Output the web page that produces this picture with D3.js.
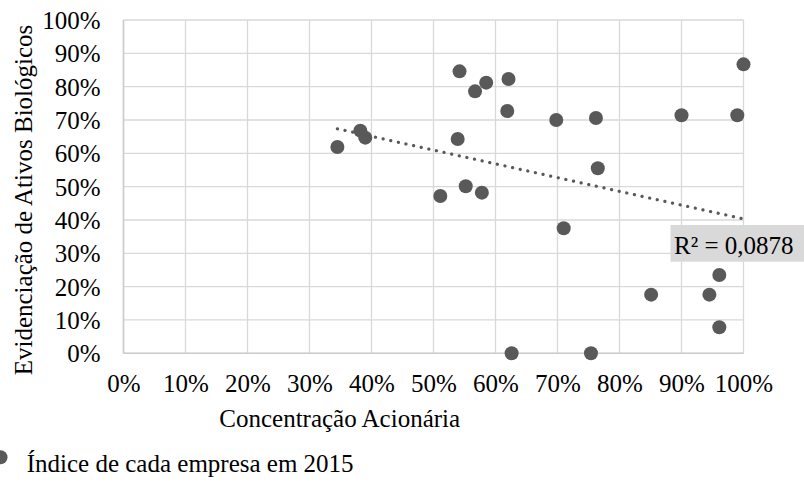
<!DOCTYPE html>
<html>
<head>
<meta charset="utf-8">
<script src="https://cdn.jsdelivr.net/npm/d3@7"></script>
<style>
  html, body { margin: 0; padding: 0; background: #fff; }
  svg { display: block; }
  text { font-family: "Liberation Serif", "Times New Roman", serif; fill: #000; }
</style>
</head>
<body>
<svg id="chart" width="804" height="483"></svg>
<script>
// Data (fractions)
const concentracao = [0.345, 0.382, 0.390, 0.542, 0.585, 0.567, 0.621, 1.000, 0.619, 0.698, 0.762, 0.900, 0.990, 0.539, 0.765, 0.552, 0.578, 0.511, 0.710, 0.961, 0.851, 0.945, 0.961, 0.626, 0.754];
const evidenciacao = [0.619, 0.668, 0.647, 0.846, 0.812, 0.786, 0.823, 0.867, 0.727, 0.700, 0.706, 0.714, 0.714, 0.643, 0.555, 0.501, 0.482, 0.472, 0.375, 0.235, 0.176, 0.176, 0.078, 0.000, 0.000];
const xTicks = [0, 0.1, 0.2, 0.3, 0.4, 0.5, 0.6, 0.7, 0.8, 0.9, 1.0];
const yTicks = [0, 0.1, 0.2, 0.3, 0.4, 0.5, 0.6, 0.7, 0.8, 0.9, 1.0];
const r2Label = "R² = 0,0878";
const xTitle = "Concentração Acionária";
const yTitle = "Evidenciação de Ativos Biológicos";
const legendLabel = "Índice de cada empresa em 2015";

const svg = d3.select("#chart");
const fs = 25;
const x = d3.scaleLinear().domain([0, 1]).range([123.5, 743.5]);
const y = d3.scaleLinear().domain([0, 1]).range([353.3, 20]);
const pct = d3.format(".0%");
const gridColor = "#d9d9d9";
const markColor = "#595959";

// gridlines
const g = svg.append("g");
g.selectAll("line.vx").data(xTicks).join("line")
  .attr("x1", d => x(d)).attr("x2", d => x(d))
  .attr("y1", y(1)).attr("y2", y(0))
  .attr("stroke", gridColor).attr("stroke-width", 1.3);
g.selectAll("line.hy").data(yTicks).join("line")
  .attr("x1", x(0)).attr("x2", x(1))
  .attr("y1", d => y(d)).attr("y2", d => y(d))
  .attr("stroke", gridColor).attr("stroke-width", 1.3);
// axis lines
g.append("line").attr("x1", x(0)).attr("x2", x(0)).attr("y1", y(1)).attr("y2", y(0))
  .attr("stroke", "#cccccc").attr("stroke-width", 1.5);
g.append("line").attr("x1", x(0)).attr("x2", x(1)).attr("y1", y(0)).attr("y2", y(0))
  .attr("stroke", "#cccccc").attr("stroke-width", 1.5);

// axes labels via d3 axes
const xAxis = svg.append("g").attr("transform", `translate(0,${y(0)})`)
  .call(d3.axisBottom(x).tickValues(xTicks).tickFormat(pct).tickSize(0).tickPadding(0));
xAxis.select(".domain").remove();
xAxis.selectAll("text").attr("font-size", fs).attr("dy", null).attr("y", 38.4)
  .style("font-family", '"Liberation Serif", "Times New Roman", serif').attr("fill", "#000");

const yAxis = svg.append("g").attr("transform", `translate(100.7,0)`)
  .call(d3.axisLeft(y).tickValues(yTicks).tickFormat(pct).tickSize(0).tickPadding(0));
yAxis.select(".domain").remove();
yAxis.selectAll("text").attr("font-size", fs).attr("x", 0).attr("dy", "0.34em")
  .style("font-family", '"Liberation Serif", "Times New Roman", serif').attr("fill", "#000");

// points
const pts = concentracao.map((cx, i) => ({x: cx, y: evidenciacao[i]}));
svg.append("g").selectAll("circle").data(pts).join("circle")
  .attr("cx", d => x(d.x)).attr("cy", d => y(d.y)).attr("r", 7)
  .attr("fill", markColor);

// linear trendline (least squares)
const mx = d3.mean(pts, d => d.x), my = d3.mean(pts, d => d.y);
const slope = d3.sum(pts, d => (d.x - mx) * (d.y - my)) / d3.sum(pts, d => (d.x - mx) ** 2);
const icpt = my - slope * mx;
const xMin = d3.min(concentracao), xMax = d3.max(concentracao);
svg.append("line")
  .attr("x1", x(xMin)).attr("y1", y(icpt + slope * xMin))
  .attr("x2", x(xMax)).attr("y2", y(icpt + slope * xMax))
  .attr("stroke", markColor).attr("stroke-width", 3.2)
  .attr("stroke-linecap", "round").attr("stroke-dasharray", "0.1 7.7");

// R² label
svg.append("rect").attr("x", 670.5).attr("y", 225).attr("width", 134).attr("height", 36.7)
  .attr("fill", "#d9d9d9");
svg.append("text").attr("x", 674).attr("y", 254).attr("font-size", fs).text(r2Label);

// axis titles
svg.append("text").attr("x", 339.7).attr("y", 426.7).attr("text-anchor", "middle")
  .attr("font-size", fs).text(xTitle);
svg.append("text").attr("transform", "translate(32.3,200) rotate(-90)")
  .attr("text-anchor", "middle").attr("font-size", fs).text(yTitle);

// legend
svg.append("circle").attr("cx", 0.5).attr("cy", 457.2).attr("r", 7).attr("fill", markColor);
svg.append("text").attr("x", 26.7).attr("y", 471.7).attr("font-size", fs).text(legendLabel);
</script>
</body>
</html>
